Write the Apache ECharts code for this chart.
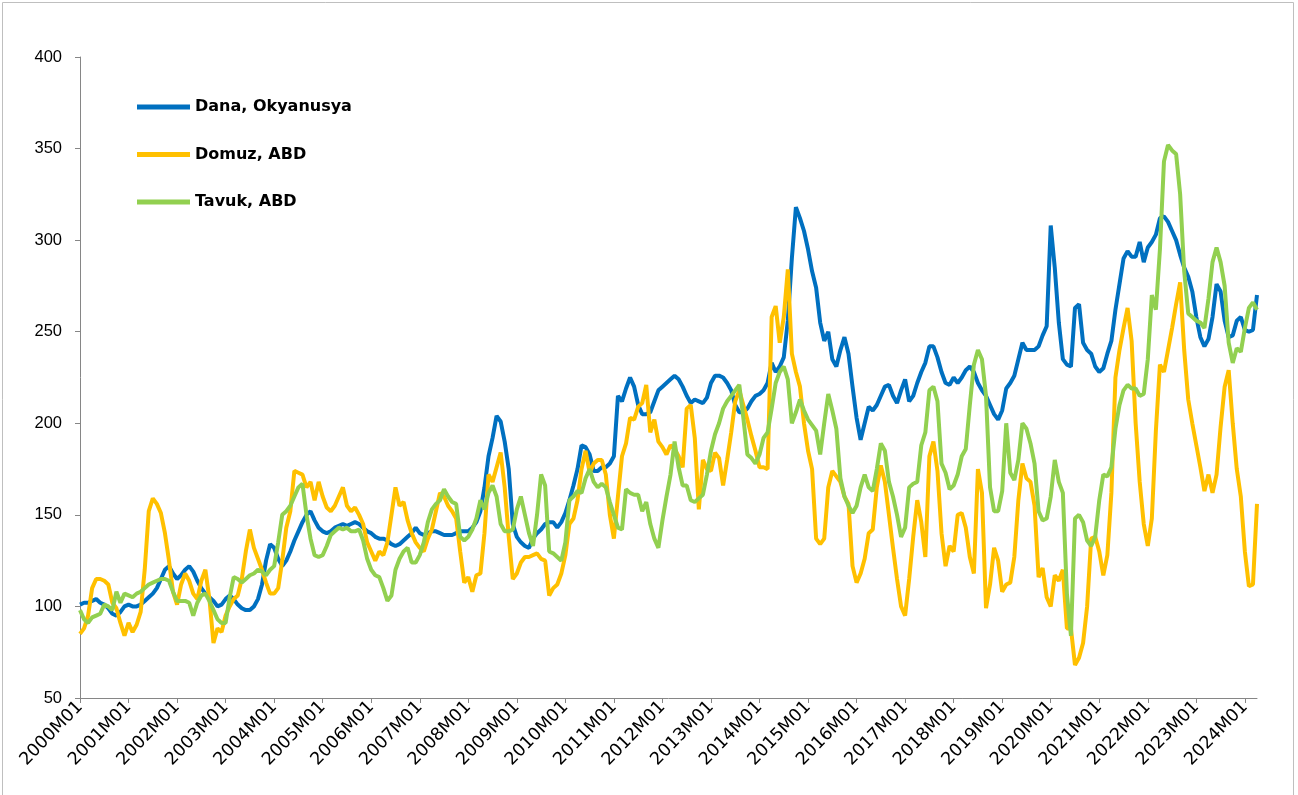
<!DOCTYPE html>
<html>
<head>
<meta charset="utf-8">
<script src="https://cdn.jsdelivr.net/npm/echarts@6/dist/echarts.min.js"></script>
<style>
html,body{margin:0;padding:0;background:#fff;}
#c{width:1298px;height:795px;}
</style>
</head>
<body>
<div id="c"></div>
<script>
// Monthly categories 2000M01 .. 2024M04
const startYear = 2000, endYear = 2024, endMonth = 4;
const months = [];
for (let y = startYear; y <= endYear; y++) {
  for (let m = 1; m <= 12; m++) {
    if (y === endYear && m > endMonth) break;
    months.push(y + 'M' + (m < 10 ? '0' + m : m));
  }
}
const yTicks = [50, 100, 150, 200, 250, 300, 350, 400];
const seriesNames = ['Dana, Okyanusya', 'Domuz, ABD', 'Tavuk, ABD'];

const dana = [
101,102,102,103,104,102,101,99,96,95,97,100,
101,100,100,101,103,105,107,110,115,120,122,118,
115,117,120,122,119,114,110,107,105,103,100,101,
104,106,104,101,99,98,98,100,104,112,125,134,
132,126,122,125,130,136,141,146,150,152,147,143,
141,140,141,143,144,145,144,145,146,145,143,141,
140,138,137,137,136,134,133,134,136,138,140,143,
140,139,140,141,141,140,139,139,139,140,141,141,
141,143,146,152,165,182,192,204,201,190,175,145,
138,135,133,132,137,140,142,145,146,146,143,146,
151,158,166,175,188,187,183,174,174,176,176,178,
182,215,212,219,225,220,210,205,205,206,212,218,
220,222,224,226,224,220,215,211,213,212,211,214,
222,226,226,225,222,218,210,206,206,208,212,215,
216,218,222,233,228,231,236,256,290,318,312,305,
295,283,274,255,245,250,235,231,240,247,238,220,
203,191,200,209,207,210,215,220,221,215,211,218,
224,212,215,222,228,233,242,242,236,228,222,221,
225,222,225,229,231,228,222,218,215,210,205,202,
207,219,222,226,235,244,240,240,240,242,248,253,
308,285,255,235,232,231,263,265,244,240,238,231,
228,230,238,245,262,276,290,294,291,291,299,288,
296,299,303,312,313,310,305,300,292,285,280,272,
258,247,242,246,258,276,272,256,247,248,256,258,
251,250,251,270
];
const domuz = [
85,88,95,110,115,115,114,112,102,99,91,84,
91,86,90,97,120,152,159,156,151,140,125,108,
101,112,118,114,107,104,114,120,104,80,88,86,
95,100,104,106,115,130,142,132,126,120,113,107,
107,110,125,143,152,174,173,172,165,168,158,168,
160,154,152,155,160,165,155,152,154,150,145,135,
130,125,130,128,135,150,165,155,157,147,140,135,
132,130,137,142,152,162,160,155,152,148,130,113,
116,108,117,118,140,172,168,176,184,165,138,115,
118,124,127,127,128,129,126,125,106,110,112,118,
128,145,148,158,175,185,173,178,180,180,172,150,
137,160,182,189,203,202,209,211,221,195,202,190,
187,183,188,186,182,176,208,210,192,153,180,175,
174,184,181,166,180,195,212,218,210,202,193,185,
176,176,175,258,264,244,258,284,238,228,220,200,
185,175,137,134,137,165,174,171,168,160,156,122,
113,118,126,140,142,165,177,168,150,132,115,100,
95,115,138,158,146,127,182,190,174,140,122,133,
130,150,151,143,127,118,175,162,99,112,132,125,
108,112,113,127,158,178,170,168,155,116,121,105,
100,117,114,120,88,88,68,72,80,100,137,138,
130,117,128,162,225,240,252,263,245,200,168,145,
133,148,196,232,228,240,252,265,277,240,213,200,
188,176,163,172,162,172,198,220,229,200,175,160,
130,111,112,156
];
const tavuk = [
98,93,91,94,95,96,101,100,98,108,102,107,
106,105,107,108,110,112,113,114,115,115,114,108,
103,103,103,102,95,102,106,107,103,98,93,91,
91,105,116,115,113,115,117,118,120,119,117,120,
122,135,150,152,155,160,165,167,150,137,128,127,
128,133,139,141,143,142,143,141,141,142,136,126,
120,117,116,110,103,106,120,126,130,132,124,124,
128,135,146,153,156,158,164,160,157,156,138,136,
138,142,148,158,153,162,166,160,145,141,141,142,
153,160,150,140,133,150,172,166,130,129,127,125,
135,158,160,163,162,170,175,168,165,167,165,157,
150,143,142,164,162,161,161,152,157,145,137,132,
147,160,172,190,176,166,166,158,157,159,161,172,
185,194,200,208,212,215,218,221,203,183,181,178,
183,192,195,208,222,228,231,224,200,206,213,207,
202,199,196,183,200,216,207,197,170,160,155,151,
155,165,172,165,163,175,189,185,168,160,150,138,
143,165,167,168,188,195,218,220,212,178,173,164,
166,172,182,186,210,232,240,235,215,165,152,152,
163,200,173,169,180,200,197,189,178,152,147,148,
160,180,168,162,107,84,148,150,146,136,133,138,
158,172,171,176,197,210,218,221,219,219,215,216,
235,270,262,295,343,352,349,347,325,283,260,258,
256,255,252,268,288,296,288,275,244,233,241,239,
252,263,266,262
];

const colors = ['#0070C0', '#FFC000', '#92D050'];
const chart = echarts.init(document.getElementById('c'), null, {renderer: 'canvas'});
const yearTick = (i) => i % 12 === 0;
const mkSeries = (name, data, color) => ({
  name: name, type: 'line', data: data, symbol: 'none', smooth: false,
  lineStyle: {width: 4, color: color}, itemStyle: {color: color},
  emphasis: {disabled: true}, animation: false
});
chart.setOption({
  animation: false,
  backgroundColor: '#ffffff',
  textStyle: {fontFamily: 'DejaVu Sans, Arial, sans-serif'},
  graphic: [{
    type: 'rect', left: 0, top: 0, silent: true,
    shape: {x: 0.5, y: 0.5, width: 1291, height: 810},
    style: {fill: 'none', stroke: '#BFBFBF', lineWidth: 1}
  }],
  grid: {left: 80, right: 41, top: 57, bottom: 97, containLabel: false, outerBoundsMode: 'none'},
  legend: {
    data: seriesNames, orient: 'vertical', left: 132, top: 94,
    icon: 'rect', itemWidth: 53, itemHeight: 5, itemGap: 31.5,
    textStyle: {fontSize: 16, fontWeight: 'bold', color: '#000', fontFamily: 'DejaVu Sans, Arial, sans-serif'},
    selectedMode: false
  },
  xAxis: {
    type: 'category', data: months, boundaryGap: false,
    axisLine: {lineStyle: {color: '#868686', width: 1}},
    axisTick: {show: true, interval: (i) => yearTick(i), length: 5, lineStyle: {color: '#868686'}},
    axisLabel: {interval: (i) => yearTick(i), rotate: 46, fontSize: 17.5, color: '#000', margin: 6,
      fontFamily: 'DejaVu Sans, Arial, sans-serif'},
    splitLine: {show: false}
  },
  yAxis: {
    type: 'value', min: yTicks[0], max: yTicks[yTicks.length - 1], interval: 50,
    axisLine: {show: true, lineStyle: {color: '#868686', width: 1}},
    axisTick: {show: true, length: 5, lineStyle: {color: '#868686'}},
    axisLabel: {fontSize: 16.5, color: '#000', margin: 18, fontFamily: 'Liberation Sans, Arial, sans-serif'},
    splitLine: {show: false}
  },
  series: [
    mkSeries(seriesNames[0], dana, colors[0]),
    mkSeries(seriesNames[1], domuz, colors[1]),
    mkSeries(seriesNames[2], tavuk, colors[2])
  ]
});
</script>
</body>
</html>
